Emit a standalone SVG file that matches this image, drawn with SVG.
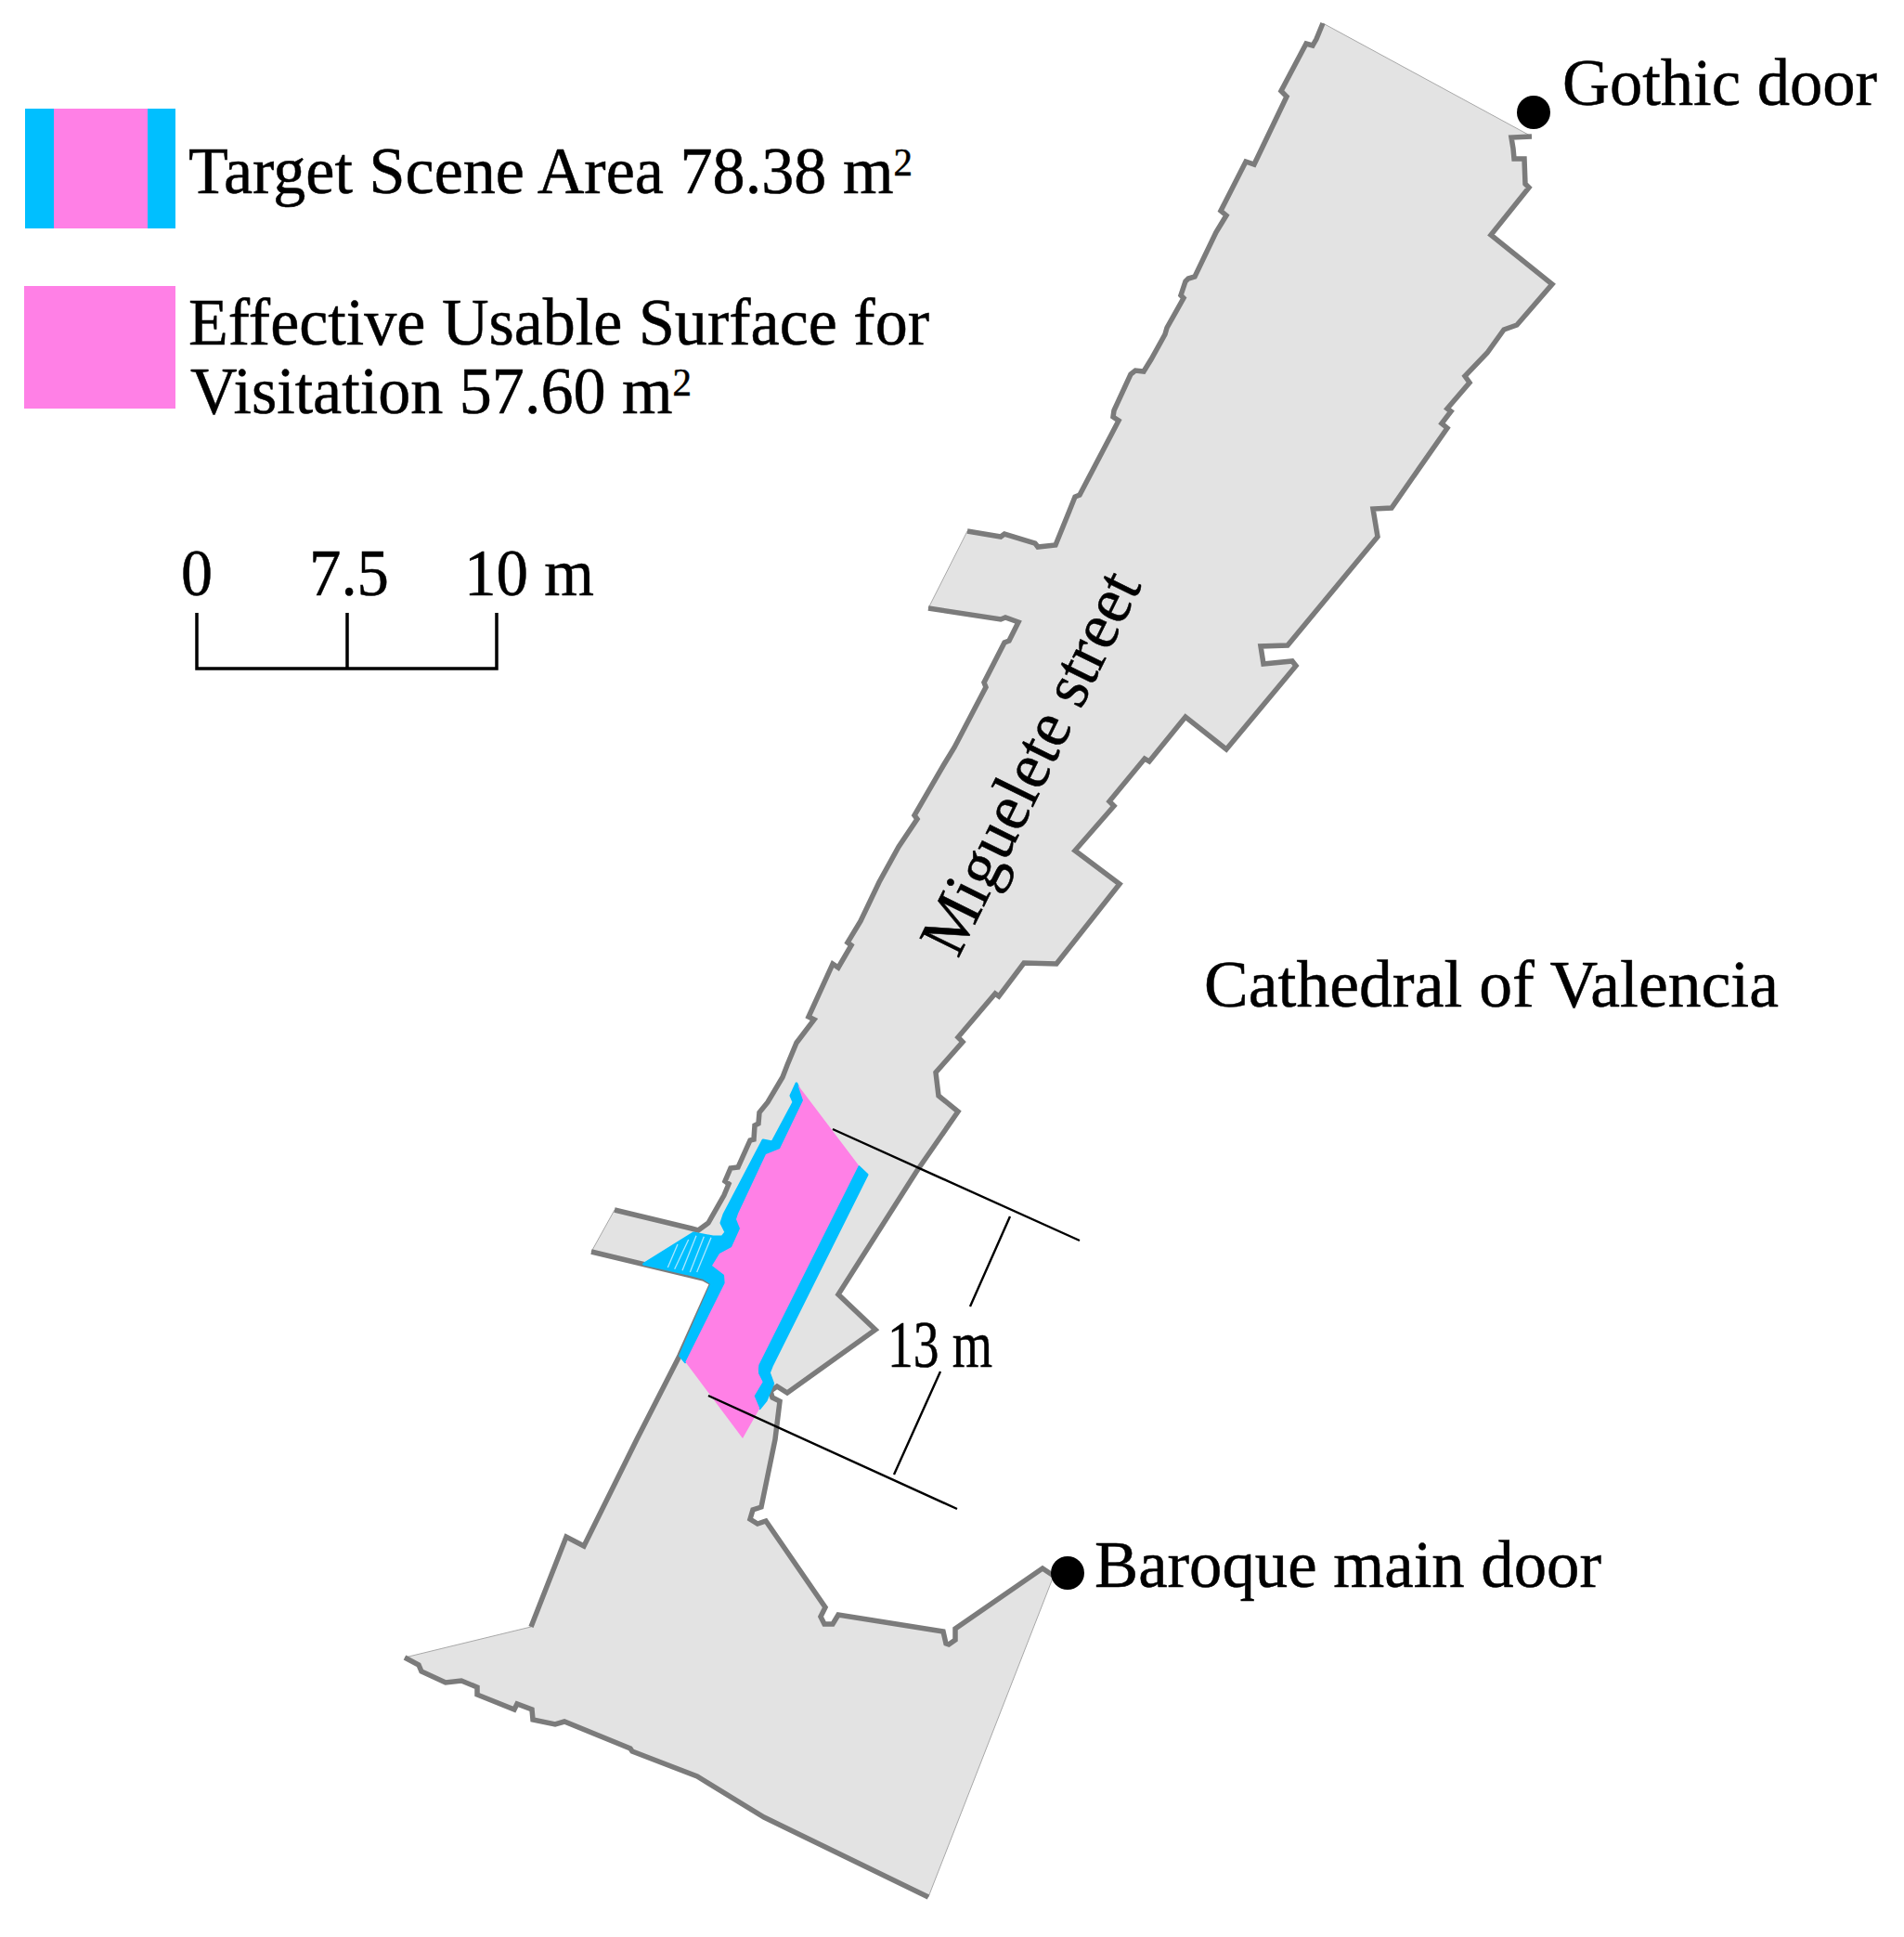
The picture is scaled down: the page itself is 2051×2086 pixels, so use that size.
<svg xmlns="http://www.w3.org/2000/svg" width="2051" height="2086" viewBox="0 0 2051 2086">
<style>
.t{font-family:"Liberation Serif","Times New Roman",serif;fill:#000;stroke:#000;stroke-width:.5}
.big{font-size:72px}
.sup{font-size:42px}
.wall{fill:none;stroke:#7b7b7b;stroke-width:5.5;stroke-linejoin:miter}
.ln{fill:none;stroke:#000;stroke-width:2.4}
.bar{fill:none;stroke:#000;stroke-width:3.5}
</style>
<rect width="2051" height="2086" fill="#fff"/>
<g id="street">
<path fill="#e3e3e3" stroke="#a8a8a8" stroke-width="1" d="M1425,25 L1650,147 1628,148 1630,160 1631,171 1642,171 1643,198 1647,202 1606,253 1672,306 1634,350 1620,355 1602,380 1578,405 1583,412 1559,440 1563,443 1553,456 1559,461 1499,547 1479,548 1484,578 1387,695 1358,696 1361,715 1392,712 1396,717 1321,807 1277,772 1238,820 1233,817 1195,863 1200,868 1158,916 1206,952 1138,1038 1103,1037 1076,1073 1072,1070 1032,1117 1037,1122 1008,1155 1011,1180 1032,1197 987,1262 903,1394 943,1432 848,1500 837,1493 830,1498 832,1505 840,1509 835,1550 820,1623 811,1626 808,1636 816,1641 825,1638 889,1731 884,1741 888,1749 897,1749 903,1739 1016,1757 1019,1770 1022,1771 1029,1766 1029,1754 1123,1689 1135,1697 1000,2043 823,1957 751,1913 681,1886 679,1883 608,1854 598,1857 574,1852 573,1841 557,1835 554,1841 514,1825 514,1817 497,1810 480,1812 454,1800 451,1793 436,1785 572,1752 610,1655 629,1665 686,1550 732,1460 767,1382 758,1377 637,1348 662,1303 745,1323 752,1325 763,1317 780,1287 785,1275 781,1272 787,1258 795,1257 808,1228 812,1227 813,1212 817,1210 818,1198 827,1187 843,1160 848,1147 858,1123 877,1098 871,1095 897,1038 903,1042 917,1018 913,1015 927,992 947,950 968,912 988,882 985,878 1017,823 1028,805 1062,740 1060,735 1082,692 1087,690 1097,670 1083,665 1078,667 1000,655 1042,572 1078,578 1082,575 1115,585 1118,589 1137,587 1152,550 1158,535 1163,533 1205,453 1199,449 1200,442 1218,403 1223,399 1232,400 1240,387 1255,360 1257,353 1275,321 1272,318 1277,303 1280,300 1287,298 1310,250 1321,232 1315,227 1342,174 1351,177 1386,104 1380,98 1407,47 1414,49 1418,42 Z"/>
<polyline class="wall" points="1650,147 1628,148 1630,160 1631,171 1642,171 1643,198 1647,202 1606,253 1672,306 1634,350 1620,355 1602,380 1578,405 1583,412 1559,440 1563,443 1553,456 1559,461 1499,547 1479,548 1484,578 1387,695 1358,696 1361,715 1392,712 1396,717 1321,807 1277,772 1238,820 1233,817 1195,863 1200,868 1158,916 1206,952 1138,1038 1103,1037 1076,1073 1072,1070 1032,1117 1037,1122 1008,1155 1011,1180 1032,1197 987,1262 903,1394 943,1432 848,1500 837,1493 830,1498 832,1505 840,1509 835,1550 820,1623 811,1626 808,1636 816,1641 825,1638 889,1731 884,1741 888,1749 897,1749 903,1739 1016,1757 1019,1770 1022,1771 1029,1766 1029,1754 1123,1689 1135,1697"/>
<polyline class="wall" points="1000,2043 823,1957 751,1913 681,1886 679,1883 608,1854 598,1857 574,1852 573,1841 557,1835 554,1841 514,1825 514,1817 497,1810 480,1812 454,1800 451,1793 436,1785"/>
<polyline class="wall" points="572,1752 610,1655 629,1665 686,1550 732,1460 767,1382 758,1377 637,1348"/>
<polyline class="wall" points="662,1303 745,1323 752,1325 763,1317 780,1287 785,1275 781,1272 787,1258 795,1257 808,1228 812,1227 813,1212 817,1210 818,1198 827,1187 843,1160 848,1147 858,1123 877,1098 871,1095 897,1038 903,1042 917,1018 913,1015 927,992 947,950 968,912 988,882 985,878 1017,823 1028,805 1062,740 1060,735 1082,692 1087,690 1097,670 1083,665 1078,667 1000,655"/>
<polyline class="wall" points="1042,572 1078,578 1082,575 1115,585 1118,589 1137,587 1152,550 1158,535 1163,533 1205,453 1199,449 1200,442 1218,403 1223,399 1232,400 1240,387 1255,360 1257,353 1275,321 1272,318 1277,303 1280,300 1287,298 1310,250 1321,232 1315,227 1342,174 1351,177 1386,104 1380,98 1407,47 1414,49 1418,42 1425,25"/>
</g>
<g id="target-area">
<g transform="translate(620 1150) scale(.33333)">
<path fill="#00bfff" stroke="#00bfff" stroke-width="9" stroke-linejoin="round" d="M714,51 L696,90 705,111 636,240 606,234 480,474 471,501 486,531 474,546 444,546 381,534 221,634 295,650 360,665 415,680 440,697 338,930 355,950 480,700 700,300 735,100 Z"/>
<path fill="#00bfff" stroke="#00bfff" stroke-width="9" stroke-linejoin="round" d="M915,320 L942,345 635,960 625,985 638,1020 615,1075 595,1100 578,1060 595,985 592,960 Z"/>
<path fill="#ff80e6" d="M718,55 L915,315 592,960 590,985 605,1015 578,1060 595,1100 540,1197 355,950 482,695 480,669 441,639 465,600 504,579 531,519 519,489 525,471 615,279 660,261 735,105 Z"/>
<path stroke="#a8e6ff" stroke-width="4" fill="none" d="M330,570 298,645M365,555 320,650M390,542 345,655M415,545 370,660M438,548 392,660"/>
</g>
</g>
<g id="dimension">
<path class="ln" d="M897,1216 1163,1336M763,1503 1031,1625M1088,1310 1045,1407M1013,1477 963,1588"/>
<text class="t big" x="956" y="1472" textLength="113" lengthAdjust="spacingAndGlyphs">13 m</text>
</g>
<g id="legend">
<rect x="27" y="117" width="162" height="129" fill="#00bfff"/>
<rect x="58" y="117" width="101" height="129" fill="#ff80e6"/>
<rect x="26" y="308" width="163" height="132" fill="#ff80e6"/>
<text class="t big" x="203" y="208" textLength="780" lengthAdjust="spacingAndGlyphs">Target Scene Area 78.38 m<tspan class="sup" dy="-19">2</tspan></text>
<text class="t big" x="203" y="371" textLength="798" lengthAdjust="spacingAndGlyphs">Effective Usable Surface for</text>
<text class="t big" x="205" y="445" textLength="540" lengthAdjust="spacingAndGlyphs">Visitation 57.60 m<tspan class="sup" dy="-19">2</tspan></text>
</g>
<g id="scale-bar">
<path class="bar" d="M212,660V720H535V660M374,660V720"/>
<text class="t big" x="195" y="641" textLength="34" lengthAdjust="spacingAndGlyphs">0</text>
<text class="t big" x="333" y="641" textLength="86" lengthAdjust="spacingAndGlyphs">7.5</text>
<text class="t big" x="500" y="641" textLength="140" lengthAdjust="spacingAndGlyphs">10 m</text>
</g>
<g id="gothic-door">
<circle cx="1652" cy="121" r="18" fill="#000"/>
<text class="t big" x="1683" y="113" textLength="339" lengthAdjust="spacingAndGlyphs">Gothic door</text>
</g>
<g id="baroque-door">
<ellipse cx="1150" cy="1694" rx="18" ry="18" fill="#000"/>
<text class="t big" x="1179" y="1709" textLength="546" lengthAdjust="spacingAndGlyphs">Baroque main door</text>
</g>
<g id="cathedral">
<text class="t big" x="1297" y="1084" textLength="619" lengthAdjust="spacingAndGlyphs">Cathedral of Valencia</text>
</g>
<g id="street-label">
<text class="t big" transform="translate(1032 1033) rotate(-63.8)" textLength="449" lengthAdjust="spacingAndGlyphs">Miguelete street</text>
</g>
</svg>
